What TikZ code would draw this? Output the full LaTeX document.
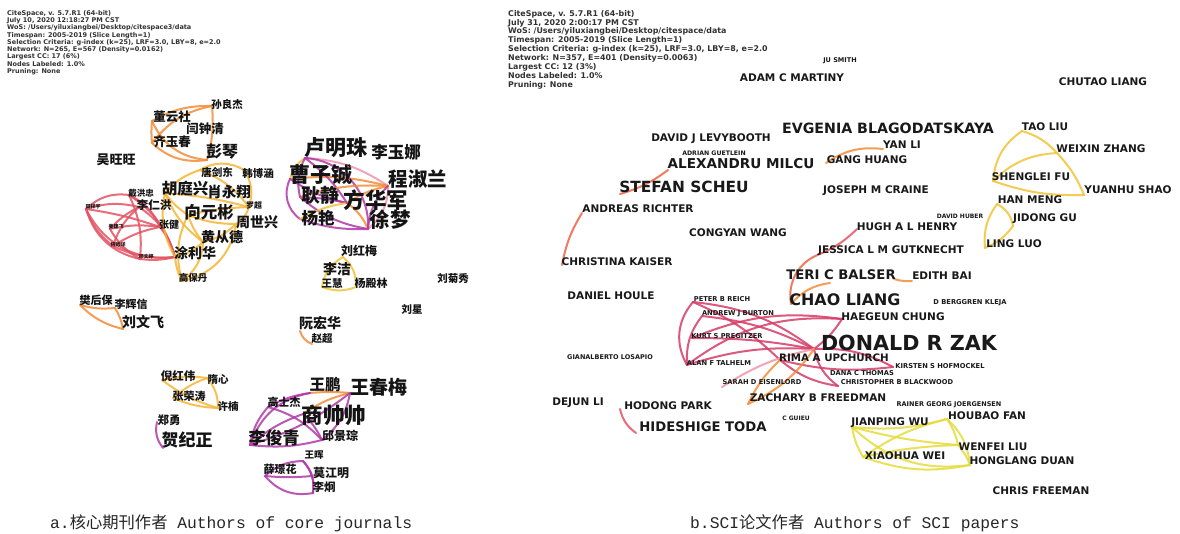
\documentclass[tikz,border=0pt]{standalone}
\usepackage{fontspec}
\setmainfont{DejaVu Sans}
\newfontfamily\cjk{Noto Sans CJK SC}
\newfontfamily\enf{DejaVu Sans}
\newfontfamily\capf{Liberation Mono}
\definecolor{cRed}{RGB}{228,84,100}
\definecolor{cOra}{RGB}{244,140,55}
\definecolor{cOraRed}{RGB}{236,100,70}
\definecolor{cAmb}{RGB}{246,182,52}
\definecolor{cPur}{RGB}{178,58,168}
\definecolor{cPink}{RGB}{240,150,170}
\definecolor{cYel}{RGB}{228,220,60}
\definecolor{cGold}{RGB}{240,196,55}
\definecolor{cRose}{RGB}{214,60,104}
\definecolor{cHead}{RGB}{50,50,50}
\tikzset{
 cn/.style={font=\cjk\bfseries\fontsize{#1}{#1}\selectfont, inner sep=0pt, text=black!92},
 en/.style={font=\enf\bfseries\fontsize{#1}{#1}\selectfont, inner sep=0pt, text=black!90},
 ed/.style={line width=2pt, line cap=round, draw=#1, opacity=0.85},
 hdrl/.style={font=\enf\bfseries\fontsize{6.5}{7.3}\selectfont, inner sep=0pt, text=cHead, align=left, anchor=north west},
 hdrr/.style={font=\enf\bfseries\fontsize{7.9}{8.9}\selectfont, inner sep=0pt, text=cHead, align=left, anchor=north west},
 captxt/.style={inner sep=0pt, anchor=west, text=black!85},
}
\newcommand\edg[4]{\draw[ed=#1] (#2) to[#3] (#4);}
\begin{document}
\begin{tikzpicture}[x=1pt,y=-1pt]
\useasboundingbox (0,0) rectangle (1180,534);
\fill[white] (0,0) rectangle (1180,534);

% ================= LEFT PANEL vertices =================
\coordinate (vDong) at (152,121);
\coordinate (vSun) at (212,106);
\coordinate (vQi) at (152,143);
\coordinate (vPeng) at (207,160);
\coordinate (vHu) at (165,193);
\coordinate (vTang) at (200,170);
\coordinate (vHan) at (244,170);
\coordinate (vLuo) at (249,207);
\coordinate (vXiang) at (188,215);
\coordinate (vZhou) at (236,224);
\coordinate (vHuang) at (203,242);
\coordinate (vTu) at (175,257);
\coordinate (vGao) at (182,281);
\coordinate (vTian) at (86,209);
\coordinate (vDai) at (129,195);
\coordinate (vLiR) at (139,207);
\coordinate (vZhang) at (160,227);
\coordinate (vJiang) at (110,229);
\coordinate (vHe) at (113,246);
\coordinate (vDeng) at (140,259);
\coordinate (vLu) at (305,158);
\coordinate (vCao) at (290,179);
\coordinate (vCheng) at (388,186);
\coordinate (vGeng) at (300,197);
\coordinate (vFang) at (347,203);
\coordinate (vYang) at (300,219);
\coordinate (vXu) at (368,229);
\coordinate (vLiuH) at (343,257);
\coordinate (vWangH) at (322,287);
\coordinate (vYangD) at (356,287);
\coordinate (vRuan) at (300,331);
\coordinate (vZhao) at (312,344);
\coordinate (vFan) at (80,305);
\coordinate (vLiHX) at (115,308);
\coordinate (vLiuWF) at (123,329);
\coordinate (vNi) at (162,380);
\coordinate (vSui) at (207,378);
\coordinate (vZhangR) at (173,398);
\coordinate (vXu2) at (218,408);
\coordinate (vZheng) at (157,422);
\coordinate (vHe2) at (163,448);
\coordinate (vGaoS) at (268,407);
\coordinate (vWangP) at (310,393);
\coordinate (vWangC) at (350,393);
\coordinate (vShang) at (303,414);
\coordinate (vLiJ) at (250,445);
\coordinate (vQiu) at (322,440);
\coordinate (vWangHui) at (303,461);
\coordinate (vXue) at (265,476);
\coordinate (vMo) at (312,476);
\coordinate (vLiJi) at (313,493);

% ================= LEFT PANEL edges =================
\edg{cOra}{vDong}{bend left=15}{vSun}
\edg{cOra}{vDong}{bend right=30}{vPeng}
\edg{cOra}{vQi}{bend left=20}{vSun}
\edg{cOra}{vQi}{bend right=25}{vPeng}
\edg{cOra}{vSun}{bend left=10}{vPeng}
\edg{cOra}{vDong}{bend right=5}{vQi}

\edg{cRed}{vTian}{bend left=25}{vDai}
\edg{cRed}{vTian}{bend left=15}{vLiR}
\edg{cRed}{vTian}{bend left=5}{vZhang}
\edg{cRed}{vTian}{bend right=30}{vDeng}
\edg{cRed}{vTian}{bend right=35}{vTu}
\edg{cRed}{vTian}{bend right=15}{vHe}
\edg{cRed}{vDai}{bend left=20}{vZhang}
\edg{cRed}{vDai}{bend left=15}{vDeng}
\edg{cRed}{vLiR}{bend right=15}{vHe}
\edg{cRed}{vLiR}{bend left=20}{vTu}
\edg{cRed}{vJiang}{bend left=10}{vZhang}
\edg{cRed}{vJiang}{bend right=15}{vDeng}
\edg{cRed}{vJiang}{bend left=10}{vLiR}
\edg{cRed}{vHe}{bend left=10}{vZhang}
\edg{cRed}{vHe}{bend right=15}{vTu}
\edg{cRed}{vDeng}{bend right=10}{vTu}
\edg{cRed}{vZhang}{bend left=10}{vTu}
\edg{cRed}{vDai}{bend left=20}{vTu}

\edg{cAmb}{vTang}{bend left=30}{vHan}
\edg{cAmb}{vTang}{bend left=15}{vLuo}
\edg{cAmb}{vHan}{bend left=25}{vLuo}
\edg{cAmb}{vHu}{bend left=15}{vTang}
\edg{cAmb}{vHu}{bend left=5}{vLuo}
\edg{cAmb}{vHu}{bend right=10}{vXiang}
\edg{cAmb}{vHu}{bend right=20}{vTu}
\edg{cAmb}{vXiang}{bend left=5}{vLuo}
\edg{cAmb}{vXiang}{bend right=10}{vZhou}
\edg{cAmb}{vXiang}{bend right=10}{vHuang}
\edg{cAmb}{vZhou}{bend left=15}{vHuang}
\edg{cAmb}{vHuang}{bend left=15}{vTu}
\edg{cAmb}{vHuang}{bend left=25}{vGao}
\edg{cAmb}{vTu}{bend right=10}{vGao}
\edg{cAmb}{vXiang}{bend right=20}{vGao}
\edg{cAmb}{vZhou}{bend left=35}{vGao}
\edg{cAmb}{vHu}{bend right=15}{vHuang}
\edg{cAmb}{vLuo}{bend left=20}{vZhou}

\edg{cGold}{vLu}{bend right=20}{vCao}
\edg{cPink}{vLu}{bend left=15}{vCheng}
\edg{cOra}{vCao}{bend left=10}{vCheng}
\edg{cPur}{vCao}{bend right=10}{vFang}
\edg{cPur}{vGeng}{bend left=5}{vFang}
\edg{cPur}{vGeng}{bend right=15}{vXu}
\edg{cPur}{vYang}{bend right=10}{vXu}
\edg{cPur}{vCao}{bend right=40}{vYang}
\edg{cGold}{vYang}{bend left=10}{vFang}
\edg{cOra}{vFang}{bend left=10}{vCheng}
\edg{cOra}{vFang}{bend left=15}{vXu}
\edg{cPink}{vCheng}{bend left=25}{vXu}
\edg{cPur}{vLu}{bend left=10}{vFang}
\edg{cPur}{vLu}{bend left=45}{vXu}
\edg{cOra}{vGeng}{bend left=10}{vCheng}
\edg{cPur}{vCheng}{bend right=20}{vXu}
\edg{cPur}{vLu}{bend right=20}{vGeng}

\edg{cGold}{vLiuH}{bend right=25}{vWangH}
\edg{cGold}{vWangH}{bend right=20}{vYangD}
\edg{cGold}{vYangD}{bend right=25}{vLiuH}
\edg{cOra}{vRuan}{bend right=25}{vZhao}
\edg{cOra}{vFan}{bend right=10}{vLiHX}
\edg{cOra}{vLiHX}{bend left=10}{vLiuWF}
\edg{cOra}{vFan}{bend right=15}{vLiuWF}

\edg{cAmb}{vNi}{bend left=10}{vSui}
\edg{cAmb}{vNi}{bend right=10}{vXu2}
\edg{cAmb}{vZhangR}{bend left=10}{vSui}
\edg{cAmb}{vZhangR}{bend right=10}{vXu2}
\edg{cAmb}{vSui}{bend left=20}{vXu2}
\edg{cPur}{vZheng}{bend right=25}{vHe2}

\edg{cOra}{vWangP}{bend left=5}{vWangC}
\edg{cOra}{vShang}{bend left=10}{vWangC}
\edg{cPur}{vGaoS}{bend left=10}{vWangP}
\edg{cPur}{vLiJ}{bend left=30}{vWangP}
\edg{cPur}{vLiJ}{bend left=15}{vGaoS}
\edg{cPur}{vLiJ}{bend right=10}{vQiu}
\edg{cPur}{vLiJ}{bend left=10}{vShang}
\edg{cPur}{vGaoS}{bend left=15}{vQiu}
\edg{cPur}{vShang}{bend left=10}{vQiu}
\edg{cPur}{vWangC}{bend left=20}{vQiu}
\edg{cPur}{vLiJ}{bend right=10}{vWangC}
\edg{cPur}{vWangHui}{bend right=20}{vXue}
\edg{cPur}{vWangHui}{bend left=10}{vMo}
\edg{cPur}{vXue}{bend right=5}{vMo}
\edg{cPur}{vXue}{bend right=30}{vLiJi}
\edg{cPur}{vMo}{bend left=10}{vLiJi}
\edg{cPur}{vWangHui}{bend left=25}{vLiJi}

% ================= LEFT PANEL labels =================
\node[hdrl] (hdrA) at (7,10) {CiteSpace, v. 5.7.R1 (64-bit)\\July 10, 2020 12:18:27 PM CST\\WoS: /Users/yiluxiangbei/Desktop/citespace3/data\\Timespan: 2005-2019 (Slice Length=1)\\Selection Criteria: g-index (k=25), LRF=3.0, LBY=8, e=2.0\\Network: N=265, E=567 (Density=0.0162)\\Largest CC: 17 (6\%)\\Nodes Labeled: 1.0\%\\Pruning: None};

\node[cn=10.5] (nSun) at (227,105) {孙良杰};
\node[cn=12.5] (nDong) at (172,117) {董云社};
\node[cn=12.5] (nYan) at (205,129) {闫钟清};
\node[cn=12.5] (nQi) at (172,142) {齐玉春};
\node[cn=16] (nPeng) at (222,152) {彭琴};
\node[cn=13] (nWu) at (116,160) {吴旺旺};
\node[cn=10.5] (nTang) at (217,172) {唐剑东};
\node[cn=10.5] (nHan) at (258,173) {韩博涵};
\node[cn=15.5] (nHu) at (185,189) {胡庭兴};
\node[cn=14.5] (nXiao) at (229,192) {肖永翔};
\node[cn=8.5] (nDai) at (141,193) {戴洪忠};
\node[cn=11.5] (nLiR) at (154,205) {李仁洪};
\node[cn=8] (nLuo) at (254,205) {罗超};
\node[cn=16.5] (nXiang) at (209,212) {向元彬};
\node[cn=14] (nZhou) at (257,222) {周世兴};
\node[cn=5] (nTian) at (93,207) {田祥宇};
\node[cn=10] (nZhang) at (169,225) {张健};
\node[cn=5] (nJiang) at (116,227) {姜建飞};
\node[cn=5] (nHe) at (118,245) {何远洋};
\node[cn=14] (nHuang) at (222,237) {黄从德};
\node[cn=5] (nDeng) at (146,257) {邓文婷};
\node[cn=14] (nTu) at (195,253) {涂利华};
\node[cn=9.5] (nGao) at (193,278) {高保丹};

\node[cn=21] (nLu) at (336,148) {卢明珠};
\node[cn=16.5] (nLiYN) at (396,152) {李玉娜};
\node[cn=21] (nCao) at (321,175) {曹子铖};
\node[cn=19.5] (nCheng) at (418,179) {程淑兰};
\node[cn=19] (nGeng) at (320,195) {耿静};
\node[cn=21.5] (nFang) at (376,200) {方华军};
\node[cn=16.5] (nYang) at (318,218) {杨艳};
\node[cn=20.5] (nXu) at (390,220) {徐梦};

\node[cn=12] (nLiuH) at (359,251) {刘红梅};
\node[cn=14] (nLiJie) at (337,269) {李洁};
\node[cn=10.5] (nWangH) at (332,283) {王慧};
\node[cn=11] (nYangD) at (371,283) {杨殿林};
\node[cn=10.5] (nLiuJ) at (453,278) {刘菊秀};
\node[cn=10.5] (nLiuX) at (412,309) {刘星};
\node[cn=14] (nRuan) at (320,323) {阮宏华};
\node[cn=10.5] (nZhao) at (322,339) {赵超};
\node[cn=11] (nFan) at (96,300) {樊后保};
\node[cn=11] (nLiHX) at (131,304) {李辉信};
\node[cn=14] (nLiuWF) at (143,322) {刘文飞};

\node[cn=11.5] (nNi) at (178,376) {倪红伟};
\node[cn=10.5] (nSui) at (218,380) {隋心};
\node[cn=11] (nZhangR) at (189,396) {张荣涛};
\node[cn=10.5] (nXu2) at (228,407) {许楠};
\node[cn=11.5] (nZheng) at (169,420) {郑勇};
\node[cn=17] (nHe2) at (187,440) {贺纪正};
\node[cn=15.5] (nWangP) at (325,385) {王鹏};
\node[cn=19] (nWangC) at (379,387) {王春梅};
\node[cn=11] (nGaoS) at (284,402) {高士杰};
\node[cn=21.5] (nShang) at (334,415) {商帅帅};
\node[cn=17] (nLiJ) at (274,438) {李俊青};
\node[cn=12] (nQiu) at (340,436) {邱景琮};
\node[cn=9.5] (nWangHui) at (314,455) {王晖};
\node[cn=11] (nXue) at (280,469) {薛璟花};
\node[cn=12] (nMo) at (331,473) {莫江明};
\node[cn=11.5] (nLiJi) at (324,487) {李炯};

\node[captxt] (capA) at (50,523) {\capf\fontsize{16.3}{16.3}\selectfont a.\cjk 核心期刊作者\capf{} Authors of core journals};

% ================= RIGHT PANEL vertices =================
\coordinate (wStefan) at (620,194);
\coordinate (wAlex) at (668,170);
\coordinate (wAndreas) at (582,213);
\coordinate (wChristina) at (562,265);
\coordinate (wGang) at (826,163);
\coordinate (wYan) at (883,149);
\coordinate (wHugh) at (857,229);
\coordinate (wJessica) at (820,254);
\coordinate (wTeri) at (830,283);
\coordinate (wTeriR) at (894,279);
\coordinate (wEdith) at (912,281);
\coordinate (wChao) at (791,304);
\coordinate (wPeter) at (693,302);
\coordinate (wAndrew) at (702,316);
\coordinate (wKurt) at (692,338);
\coordinate (wAlan) at (687,365);
\coordinate (wHaeg) at (842,319);
\coordinate (wZak) at (814,349);
\coordinate (wRima) at (780,360);
\coordinate (wKirst) at (893,367);
\coordinate (wChris) at (838,386);
\coordinate (wSarah) at (722,387);
\coordinate (wZach) at (748,404);
\coordinate (wHodong) at (620,409);
\coordinate (wToda) at (636,433);
\coordinate (wTao) at (1022,131);
\coordinate (wWeix) at (1057,153);
\coordinate (wSheng) at (993,181);
\coordinate (wYuan) at (1084,195);
\coordinate (wHanM) at (997,204);
\coordinate (wJid) at (1013,226);
\coordinate (wLing) at (985,248);
\coordinate (wJian) at (852,427);
\coordinate (wHou) at (947,419);
\coordinate (wWen) at (958,445);
\coordinate (wXiao) at (863,457);
\coordinate (wHong) at (970,465);

% ================= RIGHT PANEL edges =================
\edg{cOraRed}{wStefan}{bend right=10}{wAlex}
\edg{cOraRed}{wAndreas}{bend right=10}{wChristina}
\edg{cOra}{wGang}{bend left=20}{wYan}
\edg{cRed}{wHugh}{bend left=10}{wJessica}
\edg{cOraRed}{wJessica}{bend right=40}{wChao}
\edg{cOra}{wTeriR}{bend right=10}{wEdith}
\edg{cOra}{wChao}{bend left=20}{wTeri}

\edg{cRose}{wPeter}{bend left=15}{wZak}
\edg{cRose}{wPeter}{bend right=35}{wAlan}
\edg{cRose}{wPeter}{bend left=10}{wRima}
\edg{cRose}{wAndrew}{bend left=10}{wZak}
\edg{cRose}{wAndrew}{bend right=20}{wAlan}
\edg{cRose}{wKurt}{bend left=15}{wHaeg}
\edg{cRose}{wKurt}{bend left=5}{wZak}
\edg{cRose}{wAlan}{bend left=10}{wZak}
\edg{cRose}{wAlan}{bend left=20}{wHaeg}
\edg{cRose}{wZak}{bend right=10}{wHaeg}
\edg{cRose}{wZak}{bend left=15}{wKirst}
\edg{cRose}{wZak}{bend right=20}{wChris}
\edg{cRose}{wRima}{bend right=15}{wChris}
\edg{cPink}{wSarah}{bend left=10}{wZak}
\edg{cRose}{wRima}{bend right=10}{wKirst}
\edg{cOra}{wZach}{bend left=10}{wRima}
\edg{cOra}{wZach}{bend right=15}{wZak}
\edg{cRed}{wHodong}{bend right=20}{wToda}

\edg{cGold}{wTao}{bend left=15}{wWeix}
\edg{cGold}{wTao}{bend right=25}{wSheng}
\edg{cGold}{wSheng}{bend left=20}{wWeix}
\edg{cGold}{wWeix}{bend left=10}{wYuan}
\edg{cGold}{wSheng}{bend right=10}{wYuan}
\edg{cGold}{wHanM}{bend left=25}{wJid}
\edg{cGold}{wJid}{bend left=15}{wLing}
\edg{cGold}{wHanM}{bend right=20}{wLing}

\edg{cYel}{wJian}{bend right=10}{wHou}
\edg{cYel}{wJian}{bend right=25}{wHong}
\edg{cYel}{wJian}{bend right=10}{wXiao}
\edg{cYel}{wJian}{bend right=5}{wWen}
\edg{cYel}{wXiao}{bend left=10}{wHou}
\edg{cYel}{wXiao}{bend right=15}{wHong}
\edg{cYel}{wXiao}{bend left=5}{wWen}
\edg{cYel}{wHou}{bend left=10}{wWen}
\edg{cYel}{wHou}{bend left=20}{wHong}
\edg{cYel}{wWen}{bend left=10}{wHong}

% ================= RIGHT PANEL labels =================
\node[hdrr] (hdrB) at (508,10) {CiteSpace, v. 5.7.R1 (64-bit)\\July 31, 2020 2:00:17 PM CST\\WoS: /Users/yiluxiangbei/Desktop/citespace/data\\Timespan: 2005-2019 (Slice Length=1)\\Selection Criteria: g-index (k=25), LRF=3.0, LBY=8, e=2.0\\Network: N=357, E=401 (Density=0.0063)\\Largest CC: 12 (3\%)\\Nodes Labeled: 1.0\%\\Pruning: None};

\node[en=6.5] (mJu) at (840,61) {JU SMITH};
\node[en=10.5] (mAdam) at (792,78) {ADAM C MARTINY};
\node[en=10.5] (mChutao) at (1103,82) {CHUTAO LIANG};
\node[en=14.2] (mEvg) at (888,128) {EVGENIA BLAGODATSKAYA};
\node[en=10.5] (mTao) at (1045,127) {TAO LIU};
\node[en=10.5] (mDavidJ) at (711,139) {DAVID J LEVYBOOTH};
\node[en=10.5] (mYan) at (902,145) {YAN LI};
\node[en=10.5] (mWeix) at (1101,149) {WEIXIN ZHANG};
\node[en=6.2] (mAdrian) at (714,153) {ADRIAN GUETLEIN};
\node[en=13.6] (mAlex) at (741,164) {ALEXANDRU MILCU};
\node[en=10.5] (mGang) at (867,160) {GANG HUANG};
\node[en=15.4] (mStefan) at (684,187) {STEFAN SCHEU};
\node[en=10.5] (mJoseph) at (876,191) {JOSEPH M CRAINE};
\node[en=10.5] (mSheng) at (1031,177) {SHENGLEI FU};
\node[en=10.5] (mYuan) at (1128,190) {YUANHU SHAO};
\node[en=10.5] (mHanM) at (1030,200) {HAN MENG};
\node[en=10.5] (mAndreas) at (638,209) {ANDREAS RICHTER};
\node[en=6] (mHuber) at (960,216) {DAVID HUBER};
\node[en=10.5] (mJid) at (1045,219) {JIDONG GU};
\node[en=10.5] (mHugh) at (907,227) {HUGH A L HENRY};
\node[en=10.5] (mCong) at (738,233) {CONGYAN WANG};
\node[en=10.5] (mLing) at (1014,244) {LING LUO};
\node[en=10.5] (mJessica) at (891,251) {JESSICA L M GUTKNECHT};
\node[en=10.5] (mChristina) at (617,262) {CHRISTINA KAISER};
\node[en=13.2] (mTeri) at (841,275) {TERI C BALSER};
\node[en=10.5] (mEdith) at (942,276) {EDITH BAI};
\node[en=10.5] (mDaniel) at (611,296) {DANIEL HOULE};
\node[en=6.7] (mPeter) at (722,299) {PETER B REICH};
\node[en=15.9] (mChao) at (845,300) {CHAO LIANG};
\node[en=6.7] (mBerg) at (970,303) {D BERGGREN KLEJA};
\node[en=6.7] (mAndrew) at (738,314) {ANDREW J BURTON};
\node[en=10.5] (mHaeg) at (893,317) {HAEGEUN CHUNG};
\node[en=6.7] (mKurt) at (727,336) {KURT S PREGITZER};
\node[en=20.7] (mZak) at (909,343) {DONALD R ZAK};
\node[en=6.5] (mGian) at (610,357) {GIANALBERTO LOSAPIO};
\node[en=10.3] (mRima) at (834,358) {RIMA A UPCHURCH};
\node[en=6.7] (mAlan) at (719,363) {ALAN F TALHELM};
\node[en=6.7] (mKirst) at (940,366) {KIRSTEN S HOFMOCKEL};
\node[en=6.7] (mDana) at (862,373) {DANA C THOMAS};
\node[en=6.7] (mSarah) at (762,382) {SARAH D EISENLORD};
\node[en=6.7] (mChris) at (897,382) {CHRISTOPHER B BLACKWOOD};
\node[en=10.5] (mZach) at (818,398) {ZACHARY B FREEDMAN};
\node[en=10.5] (mDejun) at (578,403) {DEJUN LI};
\node[en=10.5] (mHodong) at (668,406) {HODONG PARK};
\node[en=6.5] (mRainer) at (949,405) {RAINER GEORG JOERGENSEN};
\node[en=10.5] (mHou) at (987,416) {HOUBAO FAN};
\node[en=6] (mGuieu) at (796,418) {C GUIEU};
\node[en=13.2] (mToda) at (703,427) {HIDESHIGE TODA};
\node[en=10.5] (mJian) at (890,423) {JIANPING WU};
\node[en=10.5] (mWen) at (993,447) {WENFEI LIU};
\node[en=10.5] (mXiao) at (905,456) {XIAOHUA WEI};
\node[en=10.5] (mHong) at (1022,461) {HONGLANG DUAN};
\node[en=10.5] (mChrisF) at (1041,491) {CHRIS FREEMAN};

\node[captxt] (capB) at (690,523) {\capf\fontsize{16.3}{16.3}\selectfont b.SCI\cjk 论文作者\capf{} Authors of SCI papers};
\end{tikzpicture}
\end{document}
